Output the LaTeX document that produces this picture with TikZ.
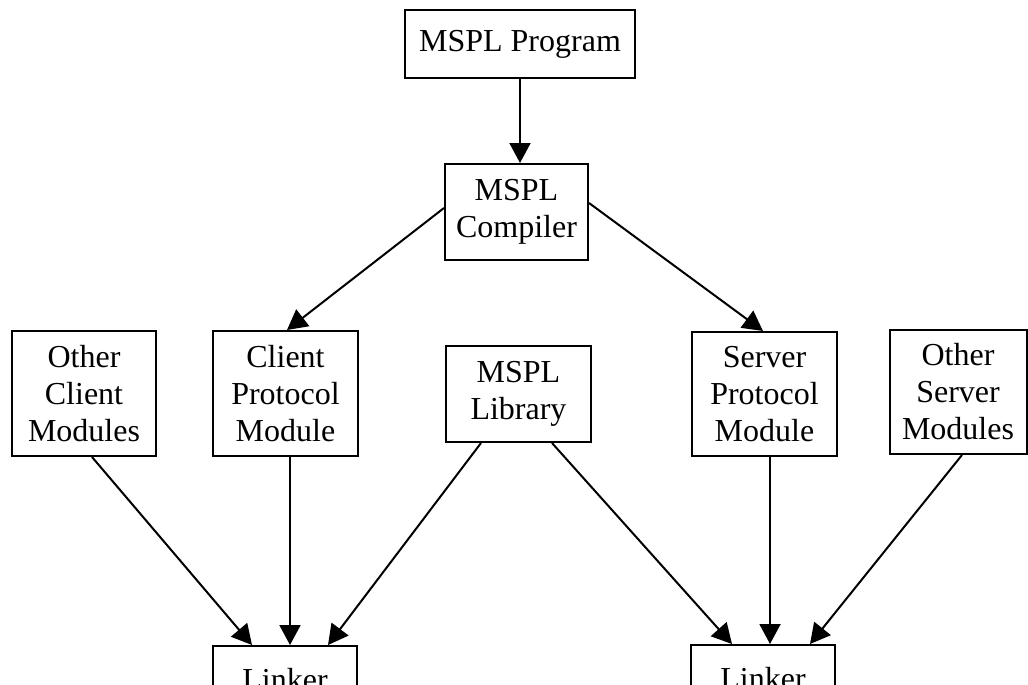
\documentclass[tikz,border=0pt]{standalone}
\usepackage{fontspec}
\setmainfont{Liberation Serif}
\usetikzlibrary{arrows.meta}
\tikzset{
  box/.style={draw, line width=2pt, inner sep=0pt, align=center,
              font=\fontsize{32}{37}\selectfont},
  arr/.style={line width=2pt, -{Triangle[length=20pt,width=21pt]}}
}
\begin{document}
\begin{tikzpicture}[x=1pt,y=-1pt]
  \clip (0,0) rectangle (1028,685);
  % source and compiler
  \node[box, minimum width=230pt, minimum height=68pt] (prog) at (520,44) {MSPL Program};
  \node[box, minimum width=143pt, minimum height=96pt] (comp) at (516.5,212) {MSPL\\Compiler};
  % module row
  \node[box, minimum width=144pt, minimum height=125pt] (ocm) at (84,393.5) {Other\\Client\\Modules};
  \node[box, minimum width=145pt, minimum height=125pt] (cpm) at (285.5,393.5) {Client\\Protocol\\Module};
  \node[box, minimum width=145pt, minimum height=96pt] (lib) at (518.5,394) {MSPL\\Library};
  \node[box, minimum width=145pt, minimum height=124pt] (spm) at (764.5,394) {Server\\Protocol\\Module};
  \node[box, minimum width=137pt, minimum height=124pt] (osm) at (958,392) {Other\\Server\\Modules};
  % linkers
  \node[box, minimum width=144pt, minimum height=68pt] (lk1) at (285,680) {Linker};
  \node[box, minimum width=144pt, minimum height=68pt] (lk2) at (763,679) {Linker};
  % connectors
  \draw[arr] (prog.south) -- (prog.south |- comp.north);
  \draw[arr] ([yshift=4pt]comp.west) -- ([xshift=1.5pt]cpm.north);
  \draw[arr] ([yshift=9pt]comp.east) -- ([xshift=-1.5pt]spm.north);
  \draw[arr] ([xshift=8pt]ocm.south) -- ([xshift=-33pt]lk1.north);
  \draw[arr] ([xshift=4.5pt]cpm.south) -- ([xshift=5pt]lk1.north);
  \draw[arr] ([xshift=-37.5pt]lib.south) -- ([xshift=43pt]lk1.north);
  \draw[arr] ([xshift=33.5pt]lib.south) -- ([xshift=-31pt]lk2.north);
  \draw[arr] ([xshift=5.5pt]spm.south) -- ([xshift=7pt]lk2.north);
  \draw[arr] ([xshift=4pt]osm.south) -- ([xshift=47pt]lk2.north);
\end{tikzpicture}
\end{document}
